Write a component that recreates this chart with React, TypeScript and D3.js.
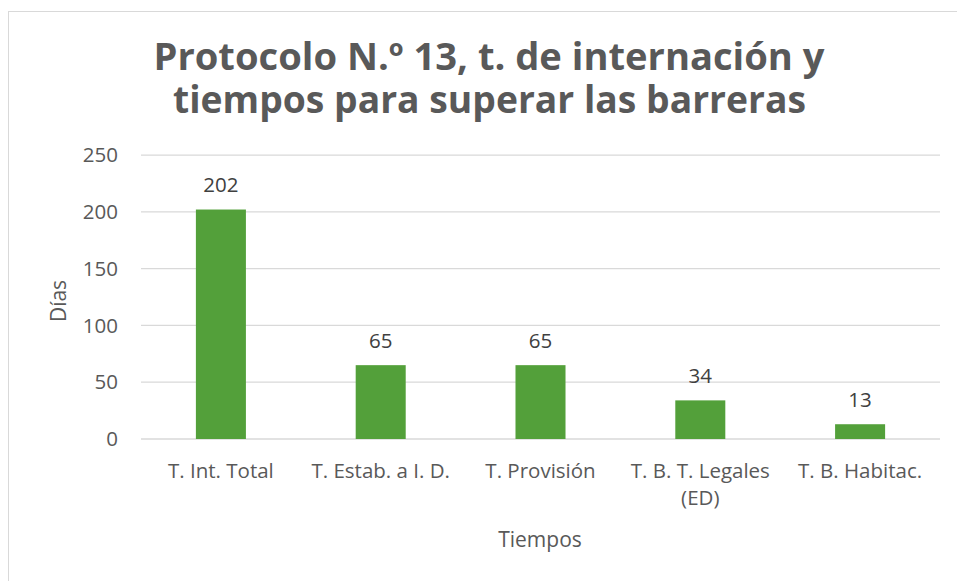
import React from "react";
import * as d3 from "d3";

const categories: string[][] = [
  ["T. Int. Total"],
  ["T. Estab. a I. D."],
  ["T. Provisión"],
  ["T. B. T. Legales", "(ED)"],
  ["T. B. Habitac."],
];
const values: number[] = [202, 65, 65, 34, 13];
const yTicks: number[] = [0, 50, 100, 150, 200, 250];
const titleLines: string[] = [
  "Protocolo N.º 13, t. de internación y",
  "tiempos para superar las barreras",
];
const yAxisTitle = "Días";
const xAxisTitle = "Tiempos";

const W = 957;
const H = 581;
const plot = { left: 141, right: 940, top: 155, bottom: 439 };
const font = "'Open Sans', 'Noto Sans', sans-serif";

export default function App() {
  const x = d3
    .scaleBand<number>()
    .domain(d3.range(categories.length))
    .range([plot.left, plot.right])
    .paddingInner(0.687)
    .paddingOuter(0.3435);
  const y = d3.scaleLinear().domain([0, 250]).range([plot.bottom, plot.top]);

  return (
    <svg
      width={W}
      height={H}
      style={{ position: "absolute", left: 0, top: 0, background: "#fff" }}
    >
      <rect x={8.5} y={11.5} width={1000} height={1000} fill="#fff" stroke="#d9d9d9" strokeWidth={1} />
      <text
        x={489}
        y={70}
        textAnchor="middle"
        fontFamily={font}
        fontWeight={700}
        fontSize={38}
        fill="#595959"
        textLength={671}
        lengthAdjust="spacingAndGlyphs"
      >
        {titleLines[0]}
      </text>
      <text
        x={489.5}
        y={113}
        textAnchor="middle"
        fontFamily={font}
        fontWeight={700}
        fontSize={38}
        fill="#595959"
        textLength={633}
        lengthAdjust="spacingAndGlyphs"
      >
        {titleLines[1]}
      </text>
      {yTicks.map((t) => (
        <g key={t}>
          <line
            x1={plot.left}
            x2={plot.right}
            y1={y(t)}
            y2={y(t)}
            stroke="#d9d9d9"
            strokeWidth={t === 0 ? 1.5 : 1.25}
          />
          <text
            x={118}
            y={y(t)}
            dy="0.35em"
            textAnchor="end"
            fontFamily={font}
            fontSize={20.5}
            fill="#595959"
          >
            {t}
          </text>
        </g>
      ))}
      {values.map((v, i) => (
        <g key={i}>
          <rect
            x={x(i)!}
            y={y(v)}
            width={x.bandwidth()}
            height={y(0) - y(v)}
            fill="#53a03a"
          />
          <text
            x={x(i)! + x.bandwidth() / 2}
            y={y(v) - 17.5}
            textAnchor="middle"
            fontFamily={font}
            fontSize={20.5}
            fill="#404040"
          >
            {v}
          </text>
          {categories[i].map((line, j) => (
            <text
              key={j}
              x={x(i)! + x.bandwidth() / 2}
              y={478 + j * 27}
              textAnchor="middle"
              fontFamily={font}
              fontSize={20.5}
              fill="#595959"
            >
              {line}
            </text>
          ))}
        </g>
      ))}
      <text
        transform={`translate(66, ${(plot.top + plot.bottom) / 2 + 4}) rotate(-90)`}
        textAnchor="middle"
        fontFamily={font}
        fontSize={21}
        fill="#595959"
      >
        {yAxisTitle}
      </text>
      <text
        x={540}
        y={546.5}
        textAnchor="middle"
        fontFamily={font}
        fontSize={21}
        fill="#595959"
      >
        {xAxisTitle}
      </text>
    </svg>
  );
}
